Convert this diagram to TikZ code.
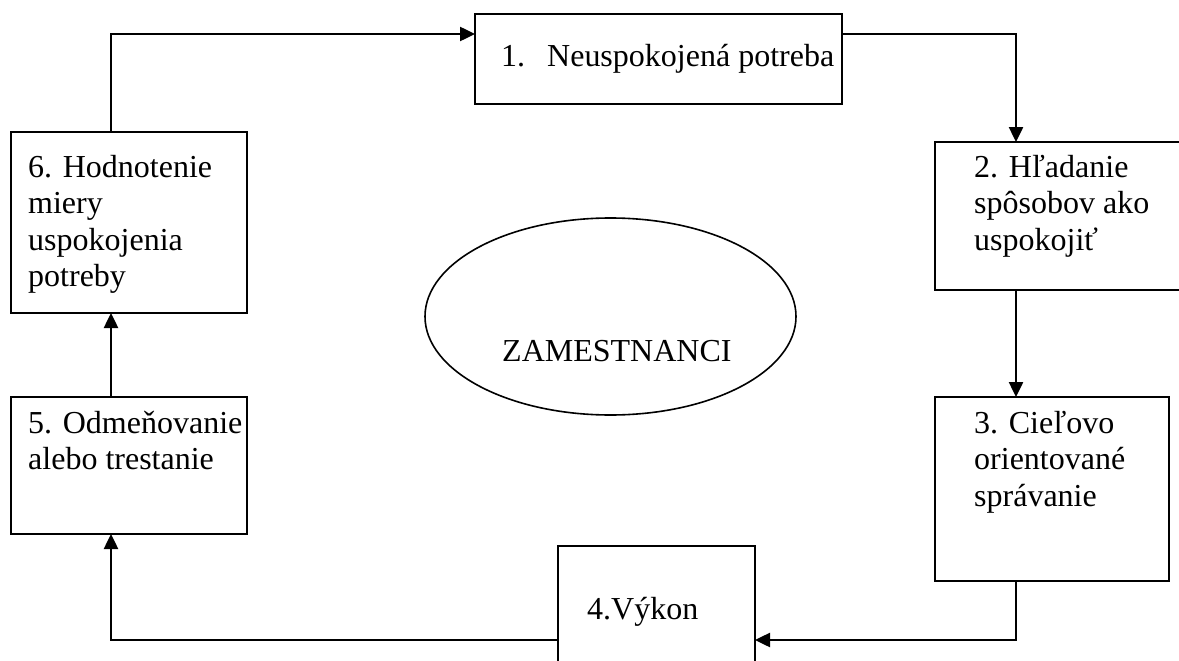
\documentclass[tikz,border=0pt]{standalone}
\usepackage{fontspec}
\setmainfont{Liberation Serif}
\usepackage{tikz}
\usetikzlibrary{arrows.meta,shapes.geometric}

\begin{document}
\begin{tikzpicture}[x=1pt,y=-1pt,
        box/.style={draw, line width=2.2pt, inner sep=0pt, outer sep=0pt, anchor=north west},
        txt/.style={inner sep=0pt, anchor=north west, align=left,
            font=\fontsize{32}{36.5}\selectfont},
        flow/.style={line width=2.5pt, -{Triangle[length=15pt,width=14pt]}},
    ]
        \path[use as bounding box, clip] (0,0) rectangle (1179,661);
        % boxes
        \node[box, minimum width=367pt, minimum height=90pt] (b1) at (475,14) {};
        \node[box, minimum width=262pt, minimum height=148pt] (b2) at (935,142) {};
        \node[box, minimum width=234pt, minimum height=184pt] (b3) at (935,397) {};
        \node[box, minimum width=197pt, minimum height=130pt] (b4) at (558,546) {};
        \node[box, minimum width=236pt, minimum height=137pt] (b5) at (11,397) {};
        \node[box, minimum width=236pt, minimum height=181pt] (b6) at (11,132) {};
        \node[draw, line width=1.6pt, ellipse, minimum width=371pt, minimum height=197pt] (e0) at (610.5,316.5) {};
        % texts
        \node[txt] (t1) at (501,40.5) {\strut 1.\hspace{22pt}Neuspokojená potreba};
        \node[txt] (t2) at (974,151.5) {\strut 2. Hľadanie\\\strut spôsobov ako\\\strut uspokojiť};
        \node[txt] (t3) at (974,407.5) {\strut 3. Cieľovo\\\strut orientované\\\strut správanie};
        \node[txt] (t4) at (587,593.5) {\strut 4.Výkon};
        \node[txt] (t5) at (28,407.5) {\strut 5. Odmeňovanie\\\strut alebo trestanie};
        \node[txt] (t6) at (28,151.5) {\strut 6. Hodnotenie\\\strut miery\\\strut uspokojenia\\\strut potreby};
        \node[txt] (t0) at (502,335.5) {\strut ZAMESTNANCI};
        % bends
        \coordinate (k1) at (111,34);
        \coordinate (k2) at (1016,34);
        \coordinate (k4) at (1016,640);
        \coordinate (k5) at (111,640);
        % connectors
        \draw[flow] (k1 |- b6.north) -- (k1) -- (k1 -| b1.west);
        \draw[flow] (k2 -| b1.east) -- (k2) -- (k2 |- b2.north);
        \draw[flow] (k2 |- b2.south) -- (k2 |- b3.north);
        \draw[flow] (k4 |- b3.south) -- (k4) -- (k4 -| b4.east);
        \draw[flow] (k5 -| b4.west) -- (k5) -- (k5 |- b5.south);
        \draw[flow] (k1 |- b5.north) -- (k1 |- b6.south);
\end{tikzpicture}
\end{document}
